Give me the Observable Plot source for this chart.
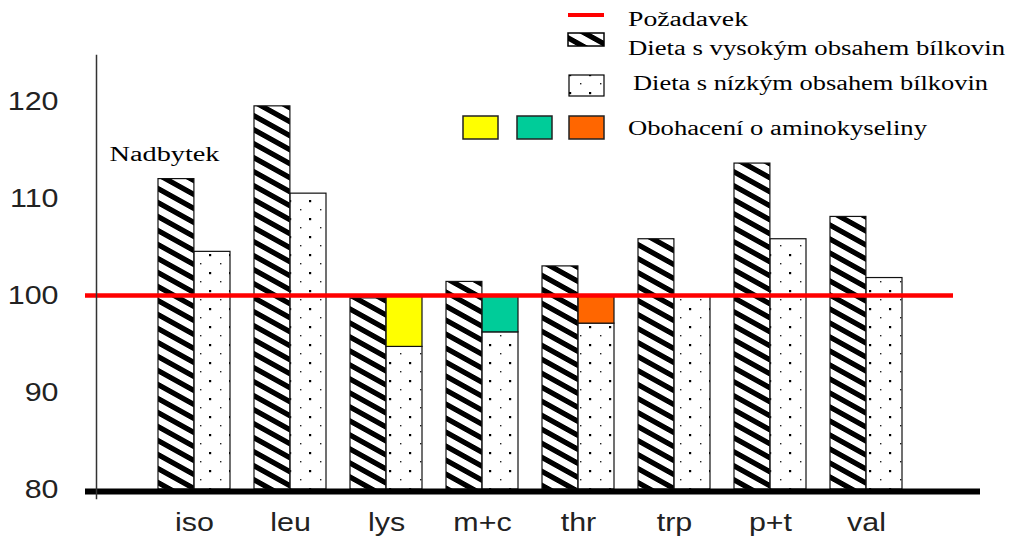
<!DOCTYPE html>
<html><head><meta charset="utf-8">
<script src="https://cdn.jsdelivr.net/npm/d3@7"></script>
<script src="https://cdn.jsdelivr.net/npm/@observablehq/plot@0.6"></script>
<style>
html,body{margin:0;padding:0;background:#fff;}
#wrap{position:relative;width:1016px;height:540px;}
#legend{position:absolute;left:0;top:0;pointer-events:none;}
</style></head><body><div id="wrap"></div>
<script>
const categories = ["iso","leu","lys","m+c","thr","trp","p+t","val"];
const highProtein = [112.0,119.5,99.7,101.4,103.0,105.8,113.6,108.1];
const lowProtein  = [104.5,110.5,94.7,96.2,97.1,100.0,105.8,101.8];
const requirement = 100;
const enrichedCats = ["lys","m+c","thr"];
const enrichColors = ["#FFFF00","#00CC99","#FF6600"];
const yTicks = [80,90,100,110,120];
const legendLabels = ["Požadavek","Dieta s vysokým obsahem bílkovin","Dieta s nízkým obsahem bílkovin","Obohacení o aminokyseliny"];
const annotationLabel = "Nadbytek";

const rows = categories.map((c,i)=>({cat:c, high:highProtein[i], low:lowProtein[i]}));
const enrich = enrichedCats.map((c,i)=>({cat:c, from:lowProtein[categories.indexOf(c)], to:requirement, color:enrichColors[i]}));
const annot = [{cat:"iso", y:114.5, label:annotationLabel}];
const half = 36.1;

const chart = Plot.plot({
  width:1016, height:540, marginLeft:96, marginRight:63, marginTop:52.5, marginBottom:51,
  style:{fontFamily:"'Liberation Sans', Arial, sans-serif", fontSize:"26px", color:"#222", background:"#fff"},
  x:{domain:categories, range:[144.85,915.15], paddingInner:0.25, paddingOuter:0.125, label:null},
  y:{domain:[80,125], label:null},
  color:{type:"identity"},
  marks:[
    Plot.barY(rows,{x:"cat", y1:80, y2:"high", insetRight:half, fill:"url(#hatch)", stroke:"#111", strokeWidth:1.2}),
    Plot.barY(rows,{x:"cat", y1:80, y2:"low", insetLeft:half, fill:"url(#dots)", stroke:"#111", strokeWidth:1.2}),
    Plot.barY(enrich,{x:"cat", y1:"from", y2:"to", insetLeft:half, fill:"color", stroke:"#111", strokeWidth:1.2}),
    Plot.ruleY([requirement],{stroke:"#FF0000", strokeWidth:4.5, insetLeft:-11}),
    Plot.ruleY([80],{stroke:"#000", strokeWidth:6, insetLeft:-11, insetRight:-27, dy:2}),
    Plot.frame({anchor:"left", stroke:"#333", strokeWidth:1.5, insetTop:2.5, insetBottom:-9}),
    Plot.axisY({ticks:yTicks, tickSize:0, tickPadding:38, fill:"#222"}),
    Plot.axisX({tickSize:0, tickPadding:23, fill:"#222"}),
    Plot.text(annot,{x:"cat", y:"y", text:"label", textAnchor:"start", dx:-85, fontFamily:"'Liberation Serif', 'Times New Roman', serif", fontSize:20, fill:"#000"})
  ]
});

const wrap = document.getElementById("wrap");
wrap.appendChild(chart);

// patterns
const NS = "http://www.w3.org/2000/svg";
const defs = d3.select(chart).insert("defs", ":first-child");
const hatch = defs.append("pattern").attr("id","hatch").attr("patternUnits","userSpaceOnUse")
  .attr("width",20).attr("height",14).attr("patternTransform","skewY(29)");
hatch.append("rect").attr("width",20).attr("height",14).attr("fill","#fff");
hatch.append("rect").attr("y",0).attr("width",20).attr("height",6).attr("fill","#000");
const dots = defs.append("pattern").attr("id","dots").attr("patternUnits","userSpaceOnUse")
  .attr("width",20).attr("height",18);
dots.append("rect").attr("width",20).attr("height",18).attr("fill","#fff");
dots.append("rect").attr("x",9).attr("y",2).attr("width",2.2).attr("height",2.2).attr("fill","#000");
dots.append("rect").attr("x",0).attr("y",11).attr("width",1.4).attr("height",1.4).attr("fill","#222");

// stretch axis labels like the reference
d3.select(chart).selectAll('g[aria-label="y-axis tick label"] text, g[aria-label="x-axis tick label"] text').each(function(){
  const w = this.getComputedTextLength();
  this.setAttribute("textLength", (w*1.17).toFixed(1));
  this.setAttribute("lengthAdjust","spacingAndGlyphs");
});
d3.select(chart).selectAll('g[aria-label="text"] text').each(function(){
  this.setAttribute("textLength", 110);
  this.setAttribute("lengthAdjust","spacingAndGlyphs");
});

// legend overlay
const lg = d3.select(wrap).append("svg").attr("id","legend").attr("width",1016).attr("height",540)
  .style("font-family","'Liberation Serif', 'Times New Roman', serif").style("font-size","20px");
lg.append("line").attr("x1",568).attr("x2",604).attr("y1",15).attr("y2",15).attr("stroke","#FF0000").attr("stroke-width",4);
lg.append("rect").attr("x",568).attr("y",33).attr("width",36).attr("height",13).attr("fill","url(#hatch)").attr("stroke","#000").attr("stroke-width",1.5);
lg.append("rect").attr("x",569).attr("y",75).attr("width",35).attr("height",21).attr("fill","url(#dots)").attr("stroke","#000").attr("stroke-width",1.2);
enrichColors.forEach((c,i)=>{
  lg.append("rect").attr("x",[463,517,569][i]).attr("y",116).attr("width",35).attr("height",23).attr("fill",c).attr("stroke","#222").attr("stroke-width",1.5);
});
const lt = [[628,26,120],[628,55,377],[633,90,355],[628,135,299]];
legendLabels.forEach((t,i)=>{
  lg.append("text").attr("x",lt[i][0]).attr("y",lt[i][1]).attr("textLength",lt[i][2]).attr("lengthAdjust","spacingAndGlyphs").attr("fill","#000").text(t);
});
</script></body></html>
